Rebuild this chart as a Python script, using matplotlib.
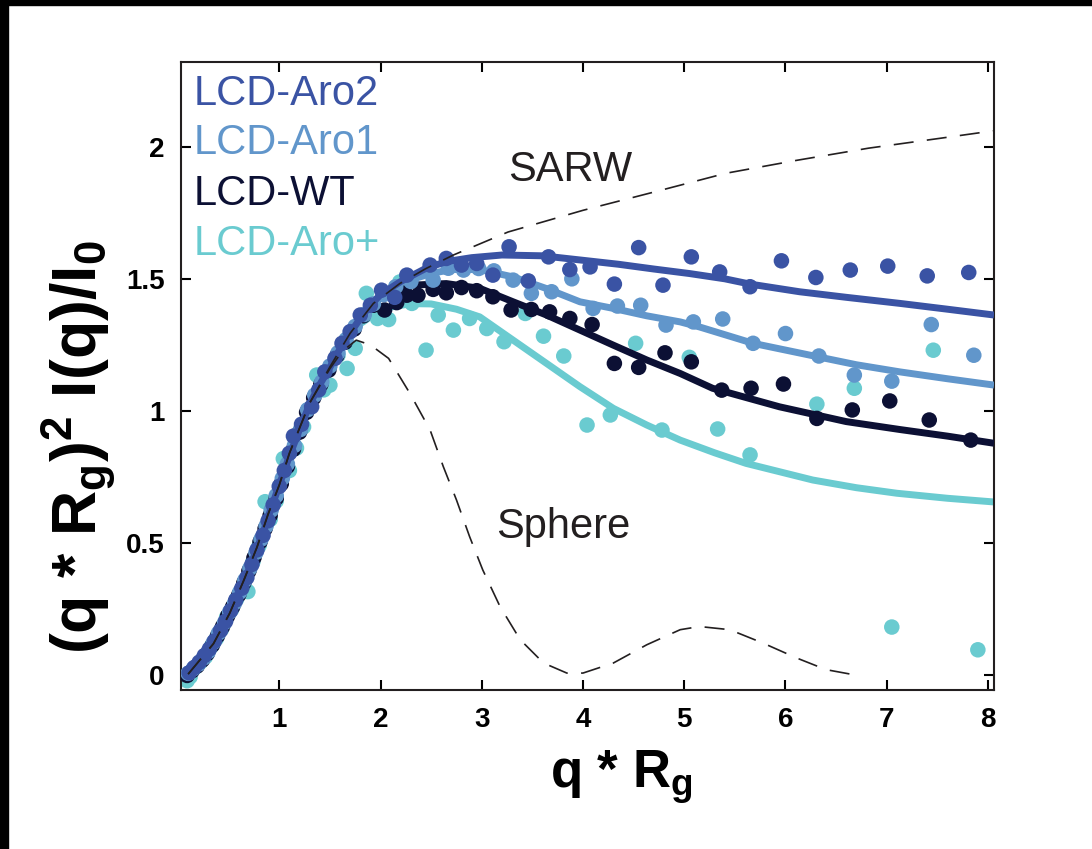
import matplotlib
matplotlib.use("Agg")
import matplotlib.pyplot as plt
from matplotlib.patches import Rectangle

plt.rcParams["font.family"] = ["Liberation Sans", "DejaVu Sans"]
plt.rcParams["mathtext.fontset"] = "custom"
plt.rcParams["mathtext.rm"] = "Liberation Sans:bold"
plt.rcParams["mathtext.bf"] = "Liberation Sans:bold"
plt.rcParams["mathtext.it"] = "Liberation Sans:bold"
plt.rcParams["mathtext.default"] = "bf"

# ---- data (q*Rg, Kratky value) ----
series_names = ["LCD-Aro2", "LCD-Aro1", "LCD-WT", "LCD-Aro+"]
series_colors = ["#3A53A4", "#6196CB", "#0C1034", "#6ACBD0"]

# fitted curves
fit_x_low = [0.10, 0.15, 0.20, 0.25, 0.30, 0.35, 0.40, 0.45, 0.50, 0.55, 0.60, 0.65,
             0.70, 0.75, 0.80, 0.85, 0.90, 0.95, 1.00, 1.10, 1.20, 1.30, 1.40, 1.50,
             1.60, 1.70]
fit_y_low = [0.005, 0.02, 0.04, 0.06, 0.085, 0.12, 0.155, 0.19, 0.23, 0.27, 0.31, 0.355,
             0.40, 0.45, 0.50, 0.55, 0.61, 0.665, 0.72, 0.83, 0.93, 1.025, 1.10, 1.165,
             1.235, 1.295]

aro2_fit_x = [1.80, 1.90, 2.00, 2.20, 2.45, 2.65, 2.90, 3.20, 3.60, 4.00, 4.35, 4.70,
              5.05, 5.40, 5.65, 6.14, 6.60, 7.13, 7.60, 8.06]
aro2_fit_y = [1.35, 1.40, 1.44, 1.49, 1.54, 1.565, 1.58, 1.59, 1.587, 1.57, 1.555, 1.537,
              1.52, 1.50, 1.48, 1.451, 1.43, 1.407, 1.385, 1.363]

aro1_fit_x = [1.80, 1.90, 2.00, 2.20, 2.50, 2.70, 2.98, 3.31, 3.64, 3.97, 4.30, 4.63,
              4.96, 5.15, 5.68, 6.32, 6.70, 7.13, 7.60, 8.06]
aro1_fit_y = [1.35, 1.40, 1.44, 1.485, 1.52, 1.535, 1.535, 1.507, 1.463, 1.413, 1.388, 1.36,
              1.337, 1.318, 1.256, 1.205, 1.175, 1.148, 1.122, 1.098]

wt_fit_x = [1.80, 1.90, 2.00, 2.15, 2.32, 2.65, 2.98, 3.31, 3.64, 3.97, 4.30, 4.63,
            4.96, 5.28, 5.94, 6.60, 7.13, 7.60, 8.06]
wt_fit_y = [1.35, 1.395, 1.43, 1.46, 1.476, 1.482, 1.464, 1.413, 1.363, 1.306, 1.249, 1.193,
            1.142, 1.086, 1.016, 0.96, 0.93, 0.905, 0.878]

arop_fit_x = [1.80, 1.90, 2.10, 2.30, 2.50, 2.75, 2.98, 3.31, 3.64, 3.97, 4.30, 4.63,
              4.96, 5.30, 5.61, 6.27, 6.70, 7.10, 7.60, 8.06]
arop_fit_y = [1.33, 1.356, 1.393, 1.406, 1.405, 1.385, 1.356, 1.268, 1.18, 1.092, 1.01, 0.947,
              0.89, 0.842, 0.802, 0.739, 0.71, 0.689, 0.67, 0.656]

# reference curves
sarw_x = [0.10, 0.35, 0.51, 0.65, 0.78, 0.89, 1.00, 1.10, 1.30, 1.50, 1.70, 1.93,
          2.19, 2.45, 2.72, 3.26, 4.00, 4.70, 5.41, 6.11, 6.82, 7.52, 8.06]
sarw_y = [0.005, 0.12, 0.235, 0.36, 0.485, 0.61, 0.72, 0.84, 1.03, 1.167, 1.294, 1.407,
          1.482, 1.539, 1.59, 1.677, 1.759, 1.828, 1.899, 1.948, 1.994, 2.031, 2.06]

sphere_x = [0.10, 0.35, 0.51, 0.65, 0.78, 0.89, 1.00, 1.10, 1.30, 1.50, 1.62, 1.76,
            1.90, 2.08, 2.29, 2.49, 2.62, 2.75, 2.88, 3.01, 3.18, 3.38, 3.61, 3.84,
            4.00, 4.30, 4.63, 4.96, 5.15, 5.45, 5.78, 6.11, 6.40, 6.67]
sphere_y = [0.005, 0.12, 0.235, 0.36, 0.485, 0.61, 0.72, 0.84, 1.03, 1.16, 1.225, 1.268,
            1.25, 1.199, 1.067, 0.928, 0.79, 0.664, 0.525, 0.399, 0.261, 0.135, 0.047, 0.009,
            0.009, 0.047, 0.116, 0.173, 0.185, 0.173, 0.122, 0.066, 0.022, 0.003]

# measured points
aro2_x = [0.11, 0.16, 0.21, 0.26, 0.31, 0.36, 0.42, 0.47, 0.52, 0.57, 0.63, 0.68,
          0.73, 0.78, 0.84, 0.89, 0.94, 1.00, 1.05, 1.10, 1.14, 1.22, 1.32, 1.39,
          1.45, 1.55, 1.62, 1.70, 1.80, 1.90, 2.01, 2.14, 2.26, 2.49, 2.65, 2.80,
          2.95, 3.11, 3.27, 3.46, 3.66, 3.87, 4.07, 4.31, 4.55, 4.79, 5.07, 5.35,
          5.65, 5.96, 6.30, 6.64, 7.01, 7.40, 7.81]
aro2_y = [0.01, 0.03, 0.05, 0.075, 0.10, 0.13, 0.17, 0.205, 0.245, 0.285, 0.33, 0.37,
          0.42, 0.475, 0.53, 0.585, 0.645, 0.715, 0.775, 0.84, 0.905, 0.95, 1.016, 1.08,
          1.148, 1.199, 1.256, 1.30, 1.363, 1.40, 1.457, 1.43, 1.514, 1.552, 1.577, 1.552,
          1.558, 1.514, 1.621, 1.492, 1.583, 1.535, 1.545, 1.48, 1.618, 1.476, 1.583, 1.526,
          1.47, 1.568, 1.505, 1.533, 1.548, 1.511, 1.524]

aro1_x = [0.10, 0.15, 0.20, 0.25, 0.30, 0.35, 0.40, 0.46, 0.51, 0.56, 0.61, 0.66,
          0.71, 0.77, 0.82, 0.87, 0.92, 0.97, 1.03, 1.08, 1.15, 1.21, 1.28, 1.35,
          1.42, 1.50, 1.58, 1.66, 1.75, 1.84, 1.93, 2.03, 2.15, 2.30, 2.52, 2.67,
          2.82, 2.97, 3.12, 3.31, 3.49, 3.69, 3.89, 4.10, 4.34, 4.57, 4.82, 5.09,
          5.38, 5.68, 6.00, 6.33, 6.68, 7.05, 7.44, 7.86]
aro1_y = [0.008, 0.025, 0.042, 0.065, 0.09, 0.125, 0.16, 0.20, 0.24, 0.275, 0.315, 0.36,
          0.405, 0.465, 0.515, 0.565, 0.625, 0.68, 0.745, 0.80, 0.87, 0.93, 1.005, 1.06,
          1.11, 1.17, 1.22, 1.27, 1.32, 1.365, 1.405, 1.44, 1.47, 1.49, 1.495, 1.54,
          1.533, 1.539, 1.53, 1.495, 1.445, 1.451, 1.50, 1.388, 1.397, 1.40, 1.325, 1.337,
          1.348, 1.256, 1.293, 1.208, 1.136, 1.113, 1.327, 1.211]

wt_x = [0.09, 0.14, 0.19, 0.24, 0.29, 0.34, 0.39, 0.44, 0.49, 0.54, 0.60, 0.65,
        0.70, 0.75, 0.81, 0.86, 0.91, 0.97, 1.02, 1.08, 1.14, 1.20, 1.27, 1.34,
        1.41, 1.49, 1.57, 1.65, 1.74, 1.83, 1.93, 2.04, 2.16, 2.26, 2.37, 2.52,
        2.65, 2.80, 2.95, 3.11, 3.29, 3.49, 3.67, 3.87, 4.09, 4.31, 4.55, 4.81,
        5.07, 5.37, 5.66, 5.98, 6.31, 6.66, 7.03, 7.42, 7.83]
wt_y = [0.0, 0.018, 0.036, 0.058, 0.083, 0.115, 0.15, 0.185, 0.225, 0.26, 0.305, 0.35,
        0.395, 0.445, 0.505, 0.555, 0.605, 0.67, 0.725, 0.79, 0.855, 0.92, 0.995, 1.05,
        1.10, 1.155, 1.21, 1.26, 1.31, 1.36, 1.40, 1.382, 1.41, 1.438, 1.438, 1.46,
        1.447, 1.467, 1.455, 1.432, 1.382, 1.384, 1.375, 1.35, 1.327, 1.18, 1.165, 1.22,
        1.186, 1.079, 1.086, 1.102, 0.972, 1.004, 1.038, 0.966, 0.89]

arop_x = [0.09, 0.12, 0.17, 0.22, 0.27, 0.33, 0.38, 0.43, 0.48, 0.53, 0.58, 0.64,
          0.69, 0.74, 0.80, 0.86, 0.91, 0.97, 1.04, 1.10, 1.17, 1.24, 1.37, 1.44,
          1.50, 1.58, 1.67, 1.75, 1.86, 1.97, 2.08, 2.19, 2.31, 2.45, 2.57, 2.72,
          2.88, 3.05, 3.22, 3.43, 3.61, 3.81, 4.04, 4.27, 4.52, 4.78, 5.05, 5.33,
          5.65, 6.31, 6.68, 7.05, 7.46, 7.90]
arop_y = [-0.02, -0.005, 0.03, 0.05, 0.07, 0.11, 0.14, 0.175, 0.22, 0.25, 0.29, 0.33,
          0.317, 0.43, 0.49, 0.657, 0.59, 0.66, 0.82, 0.775, 0.86, 0.94, 1.136, 1.08,
          1.098, 1.21, 1.161, 1.237, 1.445, 1.35, 1.346, 1.488, 1.407, 1.23, 1.363, 1.306,
          1.35, 1.312, 1.262, 1.369, 1.283, 1.208, 0.947, 0.985, 1.256, 0.928, 1.203, 0.932,
          0.834, 1.026, 1.086, 0.183, 1.23, 0.097]

point_sets = [(aro2_x, aro2_y), (aro1_x, aro1_y), (wt_x, wt_y), (arop_x, arop_y)]
fit_sets = [(aro2_fit_x, aro2_fit_y), (aro1_fit_x, aro1_fit_y),
            (wt_fit_x, wt_fit_y), (arop_fit_x, arop_fit_y)]

fig = plt.figure(figsize=(10.92, 8.49), dpi=100)
ax = fig.add_axes([0.1658, 0.1873, 0.7445, 0.7397])

# draw teal first, dark blue last
for i in [3, 2, 1, 0]:
    px, py = point_sets[i]
    fx, fy = fit_sets[i]
    ax.scatter(px, py, s=125, color=series_colors[i], edgecolors="none", zorder=2 + (3 - i))
    ax.plot(fit_x_low + fx, fit_y_low + fy, color=series_colors[i], lw=5,
            solid_capstyle="butt", zorder=2.5 + (3 - i))

ax.plot(sarw_x, sarw_y, color="#231F20", lw=1.2, dashes=(12, 8), zorder=10)
ax.plot(sphere_x, sphere_y, color="#231F20", lw=1.2, dashes=(12, 8), zorder=10)

ax.text(3.87, 1.91, "SARW", fontsize=30, color="#231F20", ha="center", va="center")
ax.text(3.80, 0.56, "Sphere", fontsize=30, color="#231F20", ha="center", va="center")

label_y = [2.2, 2.012, 1.82, 1.632]
for name, color, ly in zip(series_names, series_colors, label_y):
    ax.text(0.15, ly, name, fontsize=30, color=color, ha="left", va="center")

ax.set_xlim(0.03, 8.06)
ax.set_ylim(-0.055, 2.32)
ax.set_xticks([1, 2, 3, 4, 5, 6, 7, 8])
ax.set_yticks([0, 0.5, 1, 1.5, 2])
ax.set_yticklabels(["0", "0.5", "1", "1.5", "2"])
ax.tick_params(direction="in", length=7, width=1.5, top=True, right=True,
               labelsize=20, pad=12)
for lab in ax.get_xticklabels() + ax.get_yticklabels():
    lab.set_fontweight("bold")
for sp in ax.spines.values():
    sp.set_linewidth(1.5)
    sp.set_color("#231F20")

ax.set_xlabel(r"q * R$_g$", fontsize=38, fontweight="bold")
ax.xaxis.set_label_coords(0.542, -0.093)
ax.set_ylabel(r"(q * R$_g$)$^2$ I(q)/I$_0$", fontsize=45, fontweight="bold")
ax.yaxis.set_label_coords(-0.078, 0.387)

# black frame strips at the top and left edges
fig.patches.append(Rectangle((0, 0), 8 / 1092, 1, transform=fig.transFigure, color="black"))
fig.patches.append(Rectangle((0, 1 - 5 / 849), 1, 5 / 849, transform=fig.transFigure, color="black"))

fig.savefig("out.png", dpi=100)
